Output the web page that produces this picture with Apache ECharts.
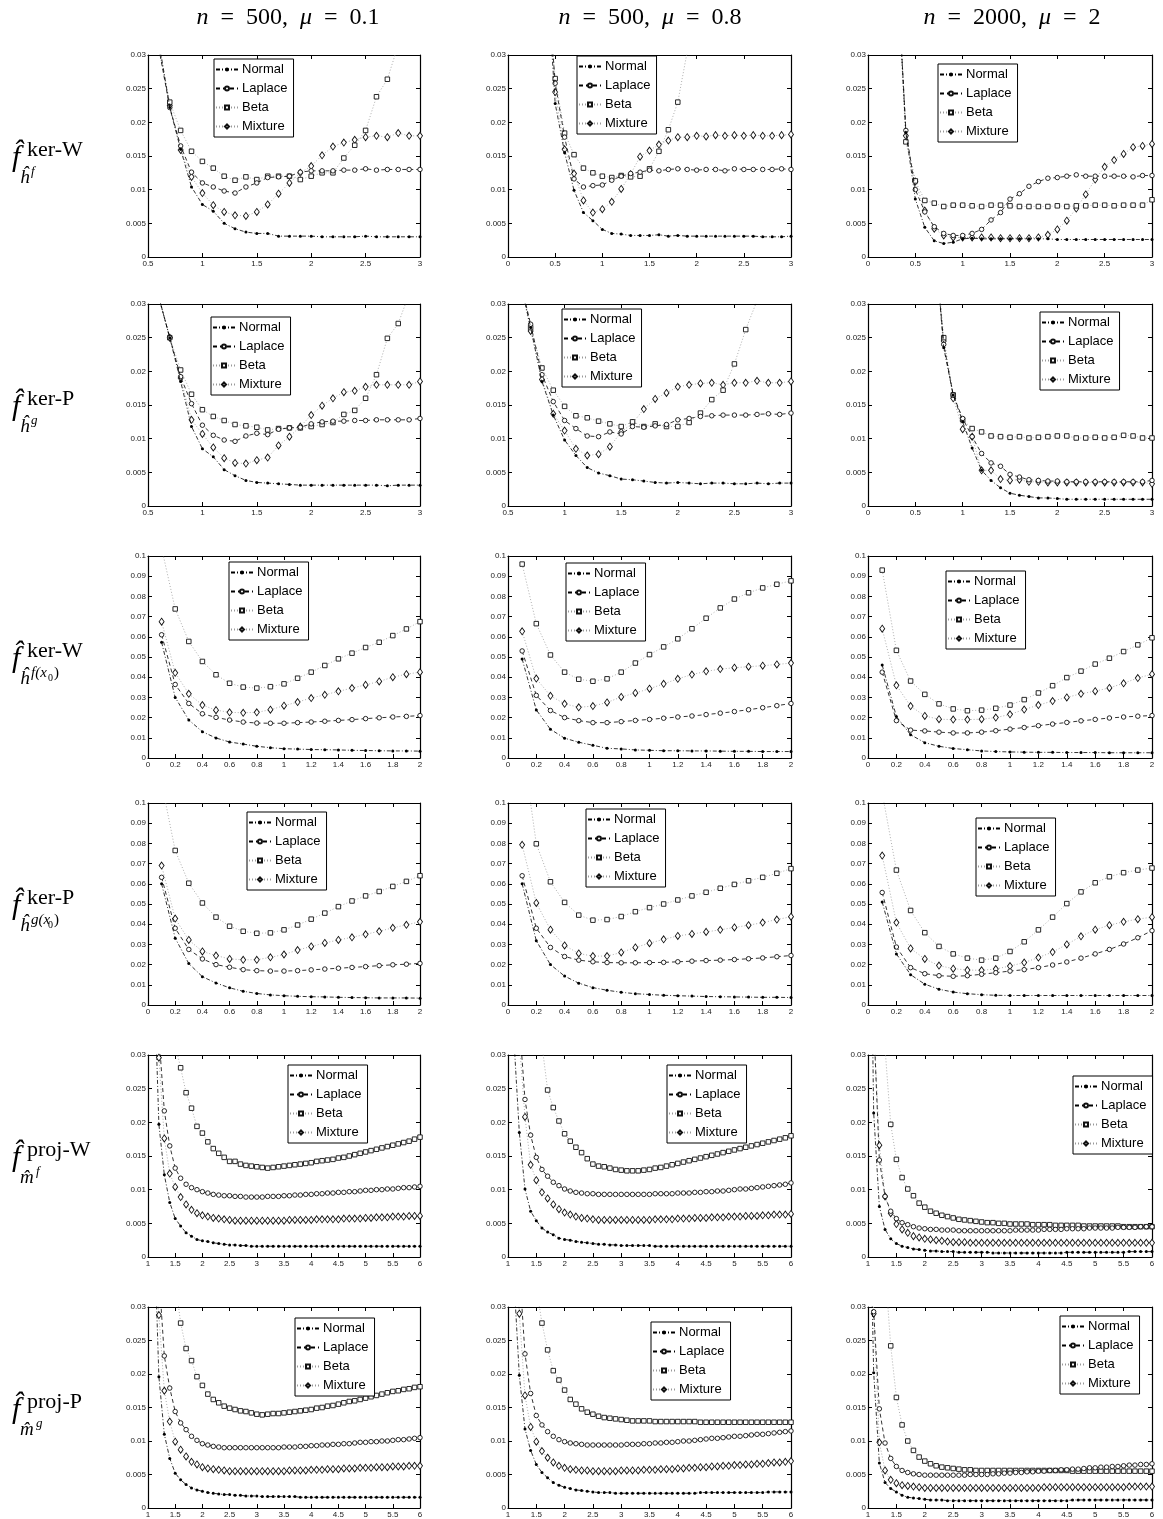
<!DOCTYPE html>
<html>
<head>
<meta charset="utf-8" />
<title>MISE comparison</title>
<script src="https://cdn.jsdelivr.net/npm/echarts/dist/echarts.min.js"></script>
<style>
body{margin:0;background:#fff;}
#main{width:1163px;height:1519px;}
</style>
</head>
<body>
<div id="main"></div>
<script type="text/javascript">
// x grids (series are right-aligned on these, they all end at the last x)
var xBand = [0.3,0.4,0.5,0.6,0.7,0.8,0.9,1.0,1.1,1.2,1.3,1.4,1.5,1.6,1.7,1.8,1.9,2.0,2.1,2.2,2.3,2.4,2.5,2.6,2.7,2.8,2.9,3.0];
var xPts = [0.1,0.2,0.3,0.4,0.5,0.6,0.7,0.8,0.9,1.0,1.1,1.2,1.3,1.4,1.5,1.6,1.7,1.8,1.9,2.0];
var xProj = [1.0,1.1,1.2,1.3,1.4,1.5,1.6,1.7,1.8,1.9,2.0,2.1,2.2,2.3,2.4,2.5,2.6,2.7,2.8,2.9,3.0,
	3.1,3.2,3.3,3.4,3.5,3.6,3.7,3.8,3.9,4.0,4.1,4.2,4.3,4.4,4.5,4.6,4.7,4.8,4.9,5.0,
	5.1,5.2,5.3,5.4,5.5,5.6,5.7,5.8,5.9,6.0];

var names = ['Normal','Laplace','Beta','Mixture'];
var colTitles = ['500|0.1','500|0.8','2000|2'];

// row 1 : ker-W, h^f
var r1c1N = [0.032,0.0222,0.016,0.0104,0.0078,0.0068,0.005,0.0042,0.0037,0.0035,0.0035,0.0031,0.0031,0.0031,0.0031,0.003,0.003,0.003,0.003,0.0031,0.003,0.003,0.003,0.003,0.003];
var r1c1L = [0.031,0.0222,0.0165,0.0126,0.011,0.0104,0.0098,0.0095,0.0104,0.011,0.0118,0.0119,0.012,0.0126,0.0128,0.0128,0.0128,0.0129,0.0129,0.0131,0.0129,0.013,0.013,0.013,0.013];
var r1c1B = [0.031,0.023,0.0188,0.0157,0.0142,0.0132,0.012,0.0114,0.0119,0.0115,0.012,0.012,0.012,0.0115,0.012,0.0125,0.0125,0.0147,0.0166,0.0188,0.0238,0.0264,0.0315,0.04,0.05];
var r1c1M = [0.031,0.0225,0.0159,0.0119,0.0095,0.0077,0.0067,0.0062,0.0061,0.0067,0.0078,0.0094,0.011,0.0125,0.0135,0.0151,0.0164,0.017,0.0174,0.0178,0.018,0.0178,0.0184,0.018,0.018];

var r1c2N = [0.045,0.0228,0.0155,0.0099,0.0066,0.0054,0.0041,0.0035,0.0034,0.0032,0.0032,0.0032,0.0033,0.0031,0.0032,0.0031,0.0031,0.0031,0.0031,0.0031,0.0031,0.0031,0.0031,0.003,0.003,0.003,0.0031];
var r1c2L = [0.045,0.0258,0.0178,0.0116,0.0104,0.0106,0.0107,0.0114,0.012,0.0124,0.0126,0.0129,0.0128,0.013,0.0131,0.013,0.0129,0.013,0.013,0.0128,0.0131,0.013,0.013,0.013,0.013,0.0131,0.013];
var r1c2B = [0.045,0.0265,0.0184,0.0152,0.0132,0.0125,0.012,0.0118,0.0121,0.0119,0.012,0.0131,0.0157,0.0189,0.023,0.0305,0.04,null,null,null,null,null,null,null,null,null,null];
var r1c2M = [0.045,0.0245,0.016,0.0124,0.0084,0.0066,0.0071,0.0082,0.0101,0.0123,0.0149,0.0158,0.0167,0.0173,0.0178,0.0178,0.018,0.0179,0.0181,0.018,0.0181,0.018,0.0181,0.018,0.018,0.0181,0.0182];

var r1c3N = [0.045,0.0185,0.0086,0.0044,0.0024,0.002,0.0022,0.0027,0.0028,0.0027,0.0027,0.0027,0.0027,0.0027,0.0027,0.0027,0.0027,0.0026,0.0026,0.0026,0.0026,0.0026,0.0026,0.0026,0.0026,0.0026,0.0026,0.0026];
var r1c3L = [0.045,0.0188,0.01,0.0067,0.0045,0.0035,0.0032,0.0032,0.0035,0.0041,0.0055,0.0066,0.0086,0.0094,0.0105,0.0112,0.0117,0.0118,0.012,0.0122,0.012,0.012,0.012,0.012,0.012,0.0119,0.0121,0.0121];
var r1c3B = [0.045,0.0171,0.0113,0.0084,0.008,0.0075,0.0077,0.0077,0.0076,0.0075,0.0077,0.0077,0.0076,0.0075,0.0075,0.0075,0.0075,0.0076,0.0075,0.0076,0.0076,0.0077,0.0077,0.0076,0.0077,0.0077,0.0077,0.0085];
var r1c3M = [0.045,0.018,0.0112,0.0069,0.0042,0.0032,0.0029,0.0029,0.0029,0.0029,0.0029,0.0028,0.0028,0.0028,0.0028,0.0029,0.0033,0.0041,0.0054,0.0072,0.0093,0.0115,0.0134,0.0144,0.0153,0.0163,0.0165,0.0168];

// row 2 : ker-P, h^g
var r2c1N = [0.031,0.025,0.0185,0.0118,0.0085,0.0073,0.0054,0.0045,0.0038,0.0035,0.0034,0.0033,0.0032,0.0031,0.0031,0.0031,0.0031,0.0031,0.0031,0.0031,0.0031,0.003,0.0031,0.0031,0.0031];
var r2c1L = [0.031,0.025,0.0192,0.0152,0.012,0.0105,0.0098,0.0096,0.0104,0.0108,0.0106,0.0114,0.0116,0.0117,0.0122,0.0125,0.0126,0.0126,0.0127,0.0127,0.0128,0.0128,0.0128,0.0128,0.013];
var r2c1B = [0.031,0.025,0.0202,0.0166,0.0143,0.0133,0.0127,0.0121,0.0119,0.0117,0.0113,0.0115,0.0116,0.0116,0.0118,0.0121,0.0124,0.0136,0.0142,0.016,0.0195,0.0249,0.0271,0.0315,0.04];
var r2c1M = [0.031,0.025,0.019,0.0128,0.0107,0.0087,0.0071,0.0064,0.0063,0.0068,0.0072,0.009,0.0103,0.0118,0.0135,0.0149,0.016,0.0169,0.0171,0.0177,0.018,0.018,0.018,0.018,0.0185];

var r2c2N = [0.034,0.0265,0.0185,0.0135,0.0098,0.0075,0.0057,0.0049,0.0045,0.004,0.0039,0.0037,0.0035,0.0034,0.0035,0.0034,0.0033,0.0034,0.0034,0.0033,0.0033,0.0034,0.0033,0.0034,0.0034];
var r2c2L = [0.034,0.027,0.0195,0.0155,0.0127,0.0115,0.0104,0.0103,0.011,0.0107,0.0118,0.0117,0.0119,0.0121,0.0128,0.013,0.0133,0.0134,0.0135,0.0135,0.0135,0.0136,0.0137,0.0136,0.0138];
var r2c2B = [0.034,0.0265,0.0205,0.0172,0.0148,0.0134,0.0131,0.0126,0.0122,0.0118,0.0125,0.0118,0.0122,0.0118,0.0118,0.0124,0.0138,0.0158,0.0172,0.0211,0.0262,0.0305,0.04,null,null];
var r2c2M = [0.034,0.026,0.0188,0.0137,0.0112,0.0085,0.0075,0.0077,0.0088,0.011,0.0123,0.0144,0.0159,0.0168,0.0177,0.018,0.0182,0.0183,0.018,0.0183,0.0183,0.0186,0.0183,0.0183,0.0185];

var r2c3N = [0.04,0.0235,0.0165,0.0125,0.0086,0.0053,0.0038,0.0027,0.0019,0.0016,0.0014,0.0012,0.0012,0.0011,0.001,0.001,0.001,0.001,0.001,0.001,0.001,0.001,0.001,0.001];
var r2c3L = [0.04,0.024,0.0165,0.013,0.0103,0.0078,0.0064,0.0059,0.0047,0.0043,0.0039,0.0038,0.0037,0.0037,0.0036,0.0036,0.0036,0.0036,0.0036,0.0036,0.0036,0.0036,0.0036,0.0038];
var r2c3B = [0.04,0.025,0.0165,0.0128,0.0115,0.011,0.0104,0.0103,0.0102,0.0103,0.0101,0.0102,0.0103,0.0104,0.0104,0.0101,0.0101,0.0102,0.0101,0.0102,0.0105,0.0104,0.0101,0.0101];
var r2c3M = [0.04,0.0245,0.016,0.0114,0.0103,0.0053,0.0053,0.004,0.0038,0.0039,0.0036,0.0036,0.0035,0.0035,0.0035,0.0035,0.0035,0.0035,0.0035,0.0035,0.0035,0.0035,0.0035,0.0033];

// row 3 : ker-W, h^{f(x0)}
var r3c1N = [0.0573,0.030,0.0188,0.013,0.0099,0.0079,0.0069,0.0058,0.0051,0.0046,0.0044,0.0042,0.0041,0.004,0.0038,0.0037,0.0036,0.0035,0.0035,0.0034];
var r3c1L = [0.061,0.0364,0.027,0.0219,0.0201,0.0188,0.0178,0.0173,0.0172,0.0172,0.0175,0.0178,0.0182,0.0186,0.019,0.0195,0.0199,0.0203,0.0206,0.021];
var r3c1B = [0.104,0.0738,0.0577,0.0478,0.0412,0.037,0.0351,0.0346,0.0353,0.0367,0.0395,0.0425,0.0458,0.0491,0.0519,0.0547,0.0573,0.0606,0.0639,0.0675];
var r3c1M = [0.0675,0.0422,0.0318,0.0262,0.0237,0.0226,0.0224,0.0226,0.0239,0.0259,0.0277,0.0297,0.0313,0.033,0.0346,0.0362,0.0379,0.04,0.0415,0.0425];

var r3c2N = [0.049,0.0238,0.0142,0.0098,0.0078,0.0063,0.0048,0.0045,0.004,0.0038,0.0036,0.0036,0.0035,0.0035,0.0034,0.0033,0.0033,0.0032,0.0032,0.0032];
var r3c2L = [0.053,0.031,0.0235,0.02,0.0185,0.0175,0.0175,0.018,0.0186,0.0191,0.0197,0.0203,0.0208,0.0215,0.0222,0.023,0.0239,0.0249,0.0259,0.027];
var r3c2B = [0.096,0.0665,0.051,0.0425,0.039,0.038,0.0392,0.0425,0.047,0.0512,0.055,0.059,0.064,0.0692,0.0743,0.0787,0.0818,0.0842,0.086,0.0877];
var r3c2M = [0.0627,0.0393,0.0308,0.0268,0.0251,0.0257,0.0275,0.0302,0.0322,0.0343,0.0367,0.0392,0.0413,0.0429,0.044,0.0447,0.0452,0.0457,0.0463,0.047];

var r3c3N = [0.046,0.0205,0.0115,0.0076,0.0058,0.0047,0.0041,0.0035,0.0032,0.003,0.0029,0.0028,0.0028,0.0027,0.0027,0.0027,0.0026,0.0026,0.0026,0.0026];
var r3c3L = [0.0425,0.0185,0.0138,0.0134,0.0128,0.0124,0.0124,0.0128,0.0135,0.0143,0.0151,0.016,0.0168,0.0176,0.0184,0.0191,0.0198,0.0203,0.0207,0.021];
var r3c3B = [0.093,0.0533,0.0381,0.0315,0.0268,0.0243,0.0234,0.0237,0.0246,0.0262,0.0289,0.0322,0.0358,0.0398,0.043,0.0465,0.0494,0.0527,0.056,0.0595];
var r3c3M = [0.064,0.036,0.0257,0.0208,0.0192,0.019,0.019,0.0192,0.02,0.0216,0.024,0.0262,0.0282,0.03,0.0318,0.0331,0.0347,0.037,0.0396,0.0415];

// row 4 : ker-P, h^{g(x0)}
var r4c1N = [0.06,0.0331,0.0205,0.014,0.0109,0.0085,0.0068,0.0057,0.005,0.0046,0.0043,0.0041,0.004,0.0038,0.0037,0.0036,0.0035,0.0035,0.0035,0.0034];
var r4c1L = [0.0632,0.038,0.0275,0.0228,0.02,0.0187,0.0175,0.017,0.0168,0.0168,0.017,0.0174,0.0178,0.0182,0.0186,0.019,0.0195,0.0199,0.0202,0.0206];
var r4c1B = [0.11,0.0765,0.0603,0.0505,0.0435,0.039,0.0365,0.0355,0.0357,0.0372,0.0396,0.0425,0.0455,0.0487,0.0515,0.054,0.0562,0.0587,0.0612,0.064];
var r4c1M = [0.069,0.0428,0.0322,0.0265,0.0245,0.0228,0.0224,0.0224,0.0236,0.025,0.0272,0.029,0.0307,0.0322,0.0335,0.035,0.0365,0.0382,0.0397,0.0412];

var r4c2N = [0.06,0.0318,0.02,0.0143,0.0108,0.0086,0.0073,0.0063,0.0056,0.0052,0.0048,0.0046,0.0044,0.0042,0.0041,0.004,0.0039,0.0038,0.0038,0.0037];
var r4c2L = [0.064,0.038,0.0285,0.024,0.0222,0.0214,0.021,0.0209,0.0209,0.021,0.0211,0.0214,0.0217,0.022,0.0222,0.0225,0.0229,0.0233,0.0239,0.0245];
var r4c2B = [0.13,0.0798,0.061,0.0508,0.0445,0.042,0.0423,0.0438,0.0462,0.0482,0.05,0.052,0.054,0.0558,0.0578,0.0597,0.0615,0.0632,0.0652,0.0675];
var r4c2M = [0.0793,0.0505,0.0373,0.0295,0.0255,0.0242,0.0242,0.026,0.0285,0.0306,0.0325,0.0342,0.0352,0.0362,0.0372,0.0384,0.0395,0.0408,0.0423,0.0437];

var r4c3N = [0.051,0.0253,0.015,0.0103,0.0078,0.0064,0.0056,0.0051,0.0048,0.0047,0.0047,0.0047,0.0047,0.0047,0.0047,0.0047,0.0047,0.0047,0.0047,0.0047];
var r4c3L = [0.0557,0.0287,0.0185,0.0155,0.0145,0.0142,0.0145,0.0152,0.016,0.0168,0.0175,0.0185,0.0198,0.0213,0.0232,0.0253,0.0275,0.0302,0.0333,0.0368];
var r4c3B = [0.105,0.0668,0.0468,0.0358,0.029,0.0253,0.0232,0.0222,0.0232,0.0265,0.0313,0.0372,0.0435,0.0502,0.056,0.0605,0.0635,0.0655,0.0668,0.0678];
var r4c3M = [0.074,0.0408,0.028,0.0228,0.0195,0.018,0.0173,0.0172,0.0178,0.0193,0.021,0.0235,0.0262,0.03,0.034,0.0373,0.0395,0.0412,0.0425,0.0435];

// row 5 : proj-W, m^f
var r5c1N = [0.045,0.0197,0.0122,0.0081,0.0057,0.0046,0.0036,0.0031,0.0026,0.0024,
	0.0023,0.0021,0.002,0.0019,0.0018,0.0018,0.0017,0.0017,0.0016,0.0016,
	0.0016,0.0016,0.0016,0.0016,0.0016,0.0016,0.0016,0.0016,0.0016,0.0016,
	0.0016,0.0016,0.0016,0.0016,0.0016,0.0016,0.0016,0.0016,0.0016,0.0016,
	0.0016,0.0016,0.0016,0.0016,0.0016,0.0016,0.0016,0.0016,0.0016,0.0016];
var r5c1L = [0.05,0.033,0.0217,0.0165,0.0132,0.0117,0.0108,0.0103,0.01,0.0097,
	0.0095,0.0093,0.0092,0.0091,0.0091,0.009,0.009,0.0089,0.0089,0.0089,
	0.0089,0.009,0.009,0.009,0.0091,0.0091,0.0092,0.0092,0.0093,0.0093,
	0.0094,0.0094,0.0095,0.0095,0.0096,0.0096,0.0097,0.0097,0.0098,0.0099,
	0.0099,0.01,0.01,0.0101,0.0101,0.0102,0.0103,0.0103,0.0104,0.0105];
var r5c1B = [0.08,0.055,0.042,0.035,0.0315,0.0281,0.0244,0.0221,0.0194,0.0184,
	0.0171,0.0161,0.0154,0.0148,0.0142,0.0142,0.0138,0.0136,0.0135,0.0134,
	0.0133,0.0132,0.0133,0.0134,0.0135,0.0136,0.0137,0.0138,0.0139,0.014,
	0.0142,0.0143,0.0144,0.0145,0.0147,0.0148,0.015,0.0152,0.0154,0.0156,
	0.0158,0.016,0.0162,0.0164,0.0166,0.0168,0.017,0.0172,0.0175,0.0178];
var r5c1M = [0.045,0.0296,0.0176,0.0124,0.0104,0.0089,0.0078,0.007,0.0065,0.0062,
	0.006,0.0058,0.0057,0.0056,0.0055,0.0054,0.0054,0.0054,0.0054,0.0054,
	0.0054,0.0054,0.0054,0.0054,0.0054,0.0055,0.0055,0.0055,0.0055,0.0055,
	0.0056,0.0056,0.0056,0.0056,0.0056,0.0057,0.0057,0.0057,0.0057,0.0058,
	0.0058,0.0059,0.0059,0.0059,0.006,0.006,0.006,0.0061,0.0061,0.0061];

var r5c2N = [0.033,0.0185,0.0101,0.0068,0.0054,0.0043,0.0037,0.0033,0.0028,0.0026,
	0.0025,0.0023,0.0022,0.0021,0.002,0.0019,0.0019,0.0018,0.0018,0.0017,
	0.0017,0.0017,0.0017,0.0017,0.0017,0.0016,0.0016,0.0016,0.0016,0.0016,
	0.0016,0.0016,0.0016,0.0016,0.0016,0.0016,0.0016,0.0016,0.0016,0.0016,
	0.0016,0.0016,0.0016,0.0016,0.0016,0.0016,0.0016,0.0016,0.0016,0.0016];
var r5c2L = [0.06,0.035,0.0234,0.0181,0.0148,0.013,0.012,0.0111,0.0106,0.0101,
	0.0098,0.0096,0.0095,0.0094,0.0094,0.0093,0.0093,0.0093,0.0093,0.0093,
	0.0093,0.0093,0.0093,0.0093,0.0093,0.0094,0.0094,0.0094,0.0094,0.0095,
	0.0095,0.0095,0.0096,0.0096,0.0097,0.0097,0.0098,0.0098,0.0099,0.01,
	0.0101,0.0101,0.0102,0.0103,0.0104,0.0105,0.0106,0.0107,0.0108,0.011];
var r5c2B = [0.09,0.065,0.05,0.041,0.036,0.0315,0.0248,0.0222,0.0202,0.0183,
	0.0172,0.0163,0.0155,0.0146,0.0138,0.0135,0.0134,0.0132,0.013,0.0129,
	0.0128,0.0128,0.0128,0.0129,0.013,0.0132,0.0133,0.0135,0.0137,0.0139,
	0.0141,0.0143,0.0145,0.0147,0.0149,0.0151,0.0153,0.0155,0.0157,0.0159,
	0.0161,0.0163,0.0165,0.0167,0.0169,0.0171,0.0173,0.0175,0.0177,0.018];
var r5c2M = [0.05,0.032,0.0208,0.0137,0.0114,0.0096,0.0087,0.0078,0.0071,0.0066,
	0.0063,0.006,0.0058,0.0057,0.0056,0.0055,0.0055,0.0055,0.0055,0.0055,
	0.0055,0.0055,0.0055,0.0055,0.0055,0.0056,0.0056,0.0056,0.0056,0.0057,
	0.0057,0.0057,0.0058,0.0058,0.0058,0.0059,0.0059,0.0059,0.006,0.006,
	0.006,0.0061,0.0061,0.0061,0.0062,0.0062,0.0063,0.0063,0.0063,0.0064];

var r5c3N = [0.08,
	0.0214,0.0075,0.0041,0.0027,0.002,0.0016,0.0014,0.0012,0.0011,0.001,
	0.0009,0.0009,0.0008,0.0008,0.0008,0.0007,0.0007,0.0007,0.0007,0.0007,
	0.0007,0.0006,0.0006,0.0006,0.0006,0.0006,0.0006,0.0006,0.0006,0.0006,
	0.0006,0.0006,0.0006,0.0006,0.0007,0.0007,0.0007,0.0007,0.0007,0.0007,
	0.0007,0.0007,0.0007,0.0007,0.0007,0.0008,0.0008,0.0008,0.0008,0.0008];
var r5c3L = [0.035,0.0144,0.009,0.0068,0.0057,0.0051,0.0048,0.0045,0.0043,0.0042,
	0.0041,0.0041,0.004,0.004,0.004,0.0039,0.0039,0.0039,0.0039,0.0039,
	0.0039,0.0039,0.0039,0.0039,0.0039,0.004,0.004,0.004,0.004,0.004,
	0.0041,0.0041,0.0041,0.0041,0.0042,0.0042,0.0042,0.0042,0.0043,0.0043,
	0.0043,0.0043,0.0043,0.0044,0.0044,0.0044,0.0044,0.0045,0.0045,0.0045];
var r5c3B = [0.07,0.045,0.031,0.0197,0.0145,0.0118,0.0101,0.0091,0.008,0.0074,
	0.0068,0.0065,0.0062,0.006,0.0058,0.0056,0.0055,0.0054,0.0053,0.0052,
	0.0051,0.0051,0.005,0.005,0.0049,0.0049,0.0049,0.0049,0.0048,0.0048,
	0.0048,0.0048,0.0047,0.0047,0.0047,0.0047,0.0047,0.0046,0.0046,0.0046,
	0.0046,0.0046,0.0046,0.0046,0.0045,0.0045,0.0045,0.0045,0.0045,0.0045];
var r5c3M = [0.035,0.0166,0.009,0.0065,0.0049,0.0041,0.0036,0.0031,0.0029,0.0027,
	0.0026,0.0025,0.0024,0.0023,0.0022,0.0022,0.0022,0.0021,0.0021,0.0021,
	0.0021,0.0021,0.0021,0.0021,0.0021,0.0021,0.0021,0.0021,0.0021,0.0021,
	0.0021,0.0021,0.0021,0.0021,0.0021,0.0021,0.0021,0.0021,0.0021,0.0021,
	0.0021,0.0021,0.0021,0.0021,0.0021,0.0021,0.0021,0.0021,0.0021,0.0021];

// row 6 : proj-P, m^g
var r6c1N = [0.045,0.0196,0.011,0.0074,0.0052,0.0042,0.0035,0.003,0.0027,0.0025,
	0.0023,0.0022,0.0021,0.002,0.002,0.0019,0.0019,0.0018,0.0018,0.0018,
	0.0017,0.0017,0.0017,0.0017,0.0017,0.0017,0.0017,0.0016,0.0016,0.0016,
	0.0016,0.0016,0.0016,0.0016,0.0016,0.0016,0.0016,0.0016,0.0016,0.0016,
	0.0016,0.0016,0.0016,0.0016,0.0016,0.0016,0.0016,0.0016,0.0016,0.0016];
var r6c1L = [0.06,0.035,0.0227,0.0179,0.0144,0.0127,0.0117,0.0107,0.0101,0.0096,
	0.0094,0.0092,0.0091,0.009,0.009,0.009,0.009,0.009,0.009,0.009,
	0.009,0.009,0.009,0.009,0.0091,0.0091,0.0091,0.0092,0.0092,0.0093,
	0.0093,0.0094,0.0094,0.0095,0.0095,0.0096,0.0096,0.0097,0.0098,0.0098,
	0.0099,0.0099,0.01,0.01,0.0101,0.0102,0.0102,0.0103,0.0104,0.0105];
var r6c1B = [0.09,0.065,0.05,0.041,0.034,0.0276,0.0238,0.022,0.0196,0.0183,
	0.017,0.0162,0.0157,0.0152,0.0149,0.0147,0.0145,0.0144,0.0142,0.014,
	0.0139,0.014,0.0141,0.0141,0.0142,0.0143,0.0144,0.0145,0.0146,0.0147,
	0.0149,0.015,0.0152,0.0153,0.0155,0.0157,0.0159,0.016,0.0162,0.0164,
	0.0166,0.0168,0.017,0.0172,0.0174,0.0175,0.0177,0.0178,0.018,0.0181];
var r6c1M = [0.045,0.0288,0.0175,0.0129,0.0099,0.0087,0.0077,0.0069,0.0065,0.0061,
	0.0059,0.0058,0.0057,0.0056,0.0055,0.0055,0.0055,0.0055,0.0055,0.0055,
	0.0055,0.0055,0.0055,0.0055,0.0055,0.0056,0.0056,0.0056,0.0056,0.0057,
	0.0057,0.0057,0.0058,0.0058,0.0058,0.0059,0.0059,0.0059,0.006,0.006,
	0.006,0.0061,0.0061,0.0061,0.0062,0.0062,0.0062,0.0063,0.0063,0.0063];

var r6c2N = [0.035,0.0198,0.0118,0.0086,0.0065,0.0053,0.0045,0.0038,0.0034,0.0031,
	0.0029,0.0027,0.0026,0.0025,0.0024,0.0023,0.0023,0.0023,0.0022,0.0022,
	0.0022,0.0022,0.0022,0.0022,0.0022,0.0022,0.0022,0.0022,0.0022,0.0022,
	0.0022,0.0022,0.0022,0.0023,0.0023,0.0023,0.0023,0.0023,0.0023,0.0023,
	0.0023,0.0023,0.0023,0.0023,0.0023,0.0024,0.0024,0.0024,0.0024,0.0024];
var r6c2L = [0.06,0.036,0.023,0.0171,0.0138,0.0124,0.0114,0.0107,0.0102,0.0099,
	0.0097,0.0096,0.0095,0.0094,0.0094,0.0094,0.0094,0.0094,0.0094,0.0094,
	0.0095,0.0095,0.0095,0.0096,0.0096,0.0097,0.0097,0.0098,0.0098,0.0099,
	0.01,0.01,0.0101,0.0102,0.0103,0.0104,0.0104,0.0105,0.0106,0.0107,
	0.0107,0.0108,0.0109,0.011,0.011,0.0111,0.0112,0.0113,0.0114,0.0115];
var r6c2B = [0.09,0.065,0.05,0.04,0.033,0.0276,0.0236,0.0205,0.0191,0.0176,
	0.0162,0.0155,0.0148,0.0143,0.014,0.0137,0.0135,0.0134,0.0133,0.0132,
	0.0131,0.013,0.013,0.013,0.013,0.0129,0.0129,0.0129,0.0129,0.0129,
	0.0129,0.0129,0.0129,0.0128,0.0128,0.0128,0.0128,0.0128,0.0128,0.0128,
	0.0128,0.0128,0.0128,0.0128,0.0128,0.0128,0.0128,0.0128,0.0128,0.0128];
var r6c2M = [0.045,0.029,0.0168,0.0121,0.0099,0.0085,0.0075,0.0068,0.0063,0.006,
	0.0058,0.0057,0.0056,0.0056,0.0055,0.0055,0.0055,0.0055,0.0055,0.0056,
	0.0056,0.0056,0.0056,0.0057,0.0057,0.0057,0.0058,0.0058,0.0058,0.0059,
	0.0059,0.006,0.006,0.0061,0.0061,0.0062,0.0062,0.0063,0.0063,0.0064,
	0.0064,0.0065,0.0065,0.0066,0.0066,0.0067,0.0068,0.0068,0.0069,0.007];

var r6c3N = [0.06,
	0.0202,0.0067,0.0038,0.0029,0.0024,0.0019,0.0016,0.0015,0.0014,0.0013,
	0.0012,0.0012,0.0012,0.0011,0.0011,0.0011,0.0011,0.0011,0.0011,0.0011,
	0.0011,0.0011,0.0011,0.0011,0.0011,0.0011,0.0011,0.0011,0.0011,0.0011,
	0.0011,0.0011,0.0011,0.0011,0.0011,0.0012,0.0012,0.0012,0.0012,0.0012,
	0.0012,0.0012,0.0012,0.0012,0.0012,0.0012,0.0012,0.0012,0.0012,0.0012];
var r6c3L = [0.06,
	0.0293,0.0148,0.0097,0.0074,0.0062,0.0056,0.0053,0.0051,0.005,0.0049,
	0.0049,0.0049,0.0049,0.0049,0.0049,0.0049,0.0049,0.005,0.005,0.005,
	0.005,0.0051,0.0051,0.0052,0.0052,0.0053,0.0053,0.0054,0.0054,0.0055,
	0.0055,0.0056,0.0056,0.0057,0.0057,0.0058,0.0058,0.0059,0.006,0.006,
	0.0061,0.0061,0.0062,0.0062,0.0063,0.0064,0.0064,0.0065,0.0065,0.0066];
var r6c3B = [0.08,0.055,0.036,0.0242,0.0165,0.0124,0.01,0.0086,0.0076,0.007,
	0.0066,0.0063,0.0061,0.006,0.0059,0.0058,0.0057,0.0057,0.0056,0.0056,
	0.0056,0.0056,0.0056,0.0056,0.0056,0.0056,0.0056,0.0056,0.0056,0.0056,
	0.0056,0.0056,0.0056,0.0056,0.0056,0.0055,0.0055,0.0055,0.0055,0.0055,
	0.0055,0.0055,0.0055,0.0055,0.0055,0.0055,0.0055,0.0055,0.0055,0.0055];
var r6c3M = [0.06,
	0.029,0.0098,0.0056,0.0042,0.0037,0.0034,0.0033,0.0032,0.0031,0.003,
	0.003,0.003,0.003,0.003,0.003,0.003,0.003,0.003,0.003,0.003,
	0.003,0.003,0.003,0.003,0.003,0.003,0.003,0.003,0.003,0.003,
	0.0031,0.0031,0.0031,0.0031,0.0031,0.0031,0.0031,0.0031,0.0031,0.0031,
	0.0031,0.0031,0.0031,0.0031,0.0031,0.0032,0.0032,0.0032,0.0032,0.0032];

// panels: x grid, axis ranges, the four series
var panels = [
	{x:xBand, xMin:0.5, xMax:3, xInt:0.5, yMax:0.03, yInt:0.005, ys:[r1c1N,r1c1L,r1c1B,r1c1M]},
	{x:xBand, xMin:0, xMax:3, xInt:0.5, yMax:0.03, yInt:0.005, ys:[r1c2N,r1c2L,r1c2B,r1c2M]},
	{x:xBand, xMin:0, xMax:3, xInt:0.5, yMax:0.03, yInt:0.005, ys:[r1c3N,r1c3L,r1c3B,r1c3M]},
	{x:xBand, xMin:0.5, xMax:3, xInt:0.5, yMax:0.03, yInt:0.005, ys:[r2c1N,r2c1L,r2c1B,r2c1M]},
	{x:xBand, xMin:0.5, xMax:3, xInt:0.5, yMax:0.03, yInt:0.005, ys:[r2c2N,r2c2L,r2c2B,r2c2M]},
	{x:xBand, xMin:0, xMax:3, xInt:0.5, yMax:0.03, yInt:0.005, ys:[r2c3N,r2c3L,r2c3B,r2c3M]},
	{x:xPts, xMin:0, xMax:2, xInt:0.2, yMax:0.1, yInt:0.01, ys:[r3c1N,r3c1L,r3c1B,r3c1M]},
	{x:xPts, xMin:0, xMax:2, xInt:0.2, yMax:0.1, yInt:0.01, ys:[r3c2N,r3c2L,r3c2B,r3c2M]},
	{x:xPts, xMin:0, xMax:2, xInt:0.2, yMax:0.1, yInt:0.01, ys:[r3c3N,r3c3L,r3c3B,r3c3M]},
	{x:xPts, xMin:0, xMax:2, xInt:0.2, yMax:0.1, yInt:0.01, ys:[r4c1N,r4c1L,r4c1B,r4c1M]},
	{x:xPts, xMin:0, xMax:2, xInt:0.2, yMax:0.1, yInt:0.01, ys:[r4c2N,r4c2L,r4c2B,r4c2M]},
	{x:xPts, xMin:0, xMax:2, xInt:0.2, yMax:0.1, yInt:0.01, ys:[r4c3N,r4c3L,r4c3B,r4c3M]},
	{x:xProj, xMin:1, xMax:6, xInt:0.5, yMax:0.03, yInt:0.005, ys:[r5c1N,r5c1L,r5c1B,r5c1M]},
	{x:xProj, xMin:1, xMax:6, xInt:0.5, yMax:0.03, yInt:0.005, ys:[r5c2N,r5c2L,r5c2B,r5c2M]},
	{x:xProj, xMin:1, xMax:6, xInt:0.5, yMax:0.03, yInt:0.005, ys:[r5c3N,r5c3L,r5c3B,r5c3M]},
	{x:xProj, xMin:1, xMax:6, xInt:0.5, yMax:0.03, yInt:0.005, ys:[r6c1N,r6c1L,r6c1B,r6c1M]},
	{x:xProj, xMin:1, xMax:6, xInt:0.5, yMax:0.03, yInt:0.005, ys:[r6c2N,r6c2L,r6c2B,r6c2M]},
	{x:xProj, xMin:1, xMax:6, xInt:0.5, yMax:0.03, yInt:0.005, ys:[r6c3N,r6c3L,r6c3B,r6c3M]}
];

// layout
var colLeft = [148, 508, 868];
var colWidth = [272, 283, 284];
var rowTop = [55, 304, 556, 803, 1055, 1307];
var rowH = 202;
var legendPos = [
	[214,59],[577,56],[938,64],
	[211,317],[562,309],[1040,312],
	[229,562],[566,563],[946,571],
	[247,812],[586,809],[976,818],
	[288,1065],[667,1065],[1073,1076],
	[295,1318],[651,1322],[1060,1316]
];

var styles = [
	{symbol:'circle', symbolSize:3, itemStyle:{color:'#000'}, lineStyle:{color:'#000', width:0.8, type:[4,2,1,2]}},
	{symbol:'circle', symbolSize:4.5, itemStyle:{color:'#fff', borderColor:'#111', borderWidth:0.9}, lineStyle:{color:'#000', width:0.8, type:[4,3]}},
	{symbol:'rect', symbolSize:4.5, itemStyle:{color:'#fff', borderColor:'#111', borderWidth:0.9}, lineStyle:{color:'#999', width:0.8, type:[1,2]}},
	{symbol:'diamond', symbolSize:[5,7], itemStyle:{color:'#fff', borderColor:'#111', borderWidth:0.9}, lineStyle:{color:'#999', width:0.8, type:[1,2]}}
];

function pairs(xs, ys){
	var off = xs.length - ys.length;
	return ys.map(function(v, i){ return [xs[off + i], v]; });
}

var grids = [], xAxes = [], yAxes = [], series = [], legends = [], graphics = [];
var tickFont = {fontSize:8, margin:3, color:'#222', fontFamily:'Liberation Sans'};

panels.forEach(function(p, i){
	var row = Math.floor(i / 3), col = i % 3;
	grids.push({left:colLeft[col], top:rowTop[row], width:colWidth[col], height:rowH});
	var xb = {gridIndex:i, type:'value', min:p.xMin, max:p.xMax, interval:p.xInt,
		splitLine:{show:false},
		axisLine:{onZero:false, lineStyle:{color:'#000', width:1.2}},
		axisTick:{inside:true, length:4, lineStyle:{color:'#000', width:1}},
		axisLabel:tickFont};
	xAxes.push(Object.assign({}, xb, {position:'bottom'}));
	xAxes.push(Object.assign({}, xb, {position:'top', axisLabel:{show:false}}));
	var yb = {gridIndex:i, type:'value', min:0, max:p.yMax, interval:p.yInt,
		splitLine:{show:false},
		axisLine:{onZero:false, lineStyle:{color:'#000', width:1.2}},
		axisTick:{inside:true, length:4, lineStyle:{color:'#000', width:1}},
		axisLabel:{fontSize:8, margin:2, color:'#222', fontFamily:'Liberation Sans'}};
	yAxes.push(Object.assign({}, yb, {position:'left'}));
	yAxes.push(Object.assign({}, yb, {position:'right', axisLabel:{show:false}}));
	styles.forEach(function(s, k){
		series.push({
			type:'line', name:names[k], xAxisIndex:2*i, yAxisIndex:2*i,
			data:pairs(p.x, p.ys[k]), symbol:s.symbol, symbolSize:s.symbolSize,
			itemStyle:s.itemStyle, lineStyle:s.lineStyle, clip:true, silent:true,
			emphasis:{disabled:true}, z:2 + (3 - k)
		});
	});
	legends.push({
		left:legendPos[i][0], top:legendPos[i][1], orient:'vertical', data:names,
		itemWidth:22, itemHeight:5, itemGap:6, padding:[4,6,4,1],
		borderColor:'#000', borderWidth:1, backgroundColor:'#fff',
		selectedMode:false,
		textStyle:{fontSize:13, fontFamily:'Liberation Sans', color:'#000', padding:[0,0,0,-1]}
	});
});

// column titles
var colCenter = [288, 650, 1012];
colTitles.forEach(function(t, c){
	var parts = t.split('|');
	graphics.push({type:'text', x:colCenter[c], y:18, silent:true,
		style:{text:'{i|n}\u2002=\u2002' + parts[0] + ',\u2002{i|\u03bc}\u2002=\u2002' + parts[1],
			rich:{i:{fontStyle:'italic', fontSize:24, fontFamily:'Liberation Serif'}},
			fontSize:24, fontFamily:'Liberation Serif', fill:'#000',
			align:'center', verticalAlign:'middle', textAlign:'center', textVerticalAlign:'middle'}});
});

// row labels
var rowSup = ['ker-W','ker-P','ker-W','ker-P','proj-W','proj-P'];
var rowBase = ['\u0125','\u0125','\u0125','\u0125','m\u0302','m\u0302'];
var rowBsup = ['f','g','f','g','f','g'];
function txt(x, y, s, size, italic){
	return {type:'text', x:x, y:y, silent:true,
		style:{text:s, fontSize:size, fontStyle:italic ? 'italic' : 'normal', fontFamily:'Liberation Serif',
			fill:'#000', verticalAlign:'middle', textVerticalAlign:'middle'}};
}
rowTop.forEach(function(T, r){
	var bx = r >= 4 ? 36 : 31;
	graphics.push(txt(12, T + 103, 'f\u0302', 30, true));
	graphics.push(txt(27, T + 95, rowSup[r], 22, false));
	graphics.push(txt(20, T + 123, rowBase[r], 19, true));
	if (r === 2 || r === 3) {
		graphics.push(txt(bx, T + 117, rowBsup[r] + '(x', 15, true));
		graphics.push(txt(bx + 17, T + 122, '0', 10, false));
		graphics.push(txt(bx + 23, T + 117, ')', 15, false));
	} else {
		graphics.push(txt(bx, T + 117, rowBsup[r], 13, true));
	}
});

var myChart = echarts.init(document.getElementById('main'));
myChart.setOption({
	animation:false,
	backgroundColor:'#fff',
	grid:grids,
	xAxis:xAxes,
	yAxis:yAxes,
	legend:legends,
	series:series,
	graphic:graphics
});
</script>
</body>
</html>
